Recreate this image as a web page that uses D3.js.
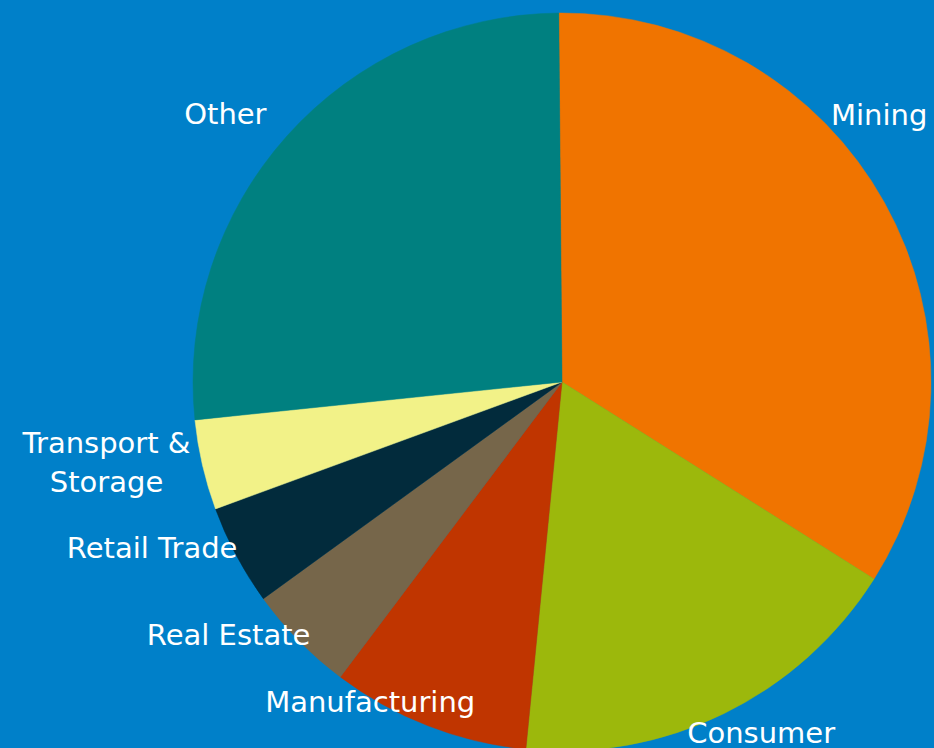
<!DOCTYPE html>
<html>
<head>
<meta charset="utf-8">
<script src="https://cdn.jsdelivr.net/npm/d3@7/dist/d3.min.js"></script>
<style>
  html, body { margin: 0; padding: 0; background: #0080C9; }
  svg { display: block; }
</style>
</head>
<body>
<script>
// Share of total by industry (%)
const categories = ["Mining", "Consumer", "Manufacturing", "Real Estate", "Retail Trade", "Transport & Storage", "Other"];
const values = [34.1, 17.6, 8.7, 4.75, 4.4, 3.95, 26.5];
const colors = ["#F07400", "#9CB80C", "#C03500", "#76664A", "#022B3C", "#F2F288", "#008080"];
// Label text lines per category
const labelLines = [["Mining"], ["Consumer"], ["Manufacturing"], ["Real Estate"], ["Retail Trade"], ["Transport &", "Storage"], ["Other"]];
// Nudges from the outer label ring, per category
const labelNudge = [[-41, -67], [19, -17], [-43, -62], [-41, -34], [-48, -27], [-56, -12], [-31, 5]];

const W = 934, H = 748;
const cx = 562, cy = 382, R = 369;

const svg = d3.select("body").append("svg")
  .attr("width", W).attr("height", H);

svg.append("rect").attr("width", W).attr("height", H).attr("fill", "#0080C9");

const data = categories.map((c, i) => ({ name: c, value: values[i], color: colors[i], lines: labelLines[i], nudge: labelNudge[i] }));

const startOffset = -0.5 * Math.PI / 180;
const pie = d3.pie().sort(null).value(d => d.value)
  .startAngle(startOffset).endAngle(startOffset + 2 * Math.PI);
const arcs = pie(data);

const arc = d3.arc().innerRadius(0).outerRadius(R);
const labelArc = d3.arc().innerRadius(410).outerRadius(410);

const g = svg.append("g").attr("transform", `translate(${cx},${cy})`);

g.selectAll("path.slice").data(arcs).enter().append("path")
  .attr("class", "slice")
  .attr("d", arc)
  .attr("fill", d => d.data.color)
  .attr("stroke", d => d.data.color)
  .attr("stroke-width", 0.5);

const lineH = 39;
const labels = g.selectAll("text.label").data(arcs).enter().append("text")
  .attr("class", "label")
  .attr("text-anchor", "middle")
  .attr("fill", "#FFFFFF")
  .style("font-family", "'DejaVu Sans', Verdana, sans-serif")
  .style("font-size", "29px")
  .attr("transform", d => {
    const [x, y] = labelArc.centroid(d);
    return `translate(${x + d.data.nudge[0]},${y + d.data.nudge[1]})`;
  });

labels.each(function (d) {
  const t = d3.select(this);
  const n = d.data.lines.length;
  d.data.lines.forEach((line, i) => {
    t.append("tspan")
      .attr("x", 0)
      .attr("y", 10 + (i - (n - 1) / 2) * lineH)
      .text(line);
  });
});
</script>
</body>
</html>
